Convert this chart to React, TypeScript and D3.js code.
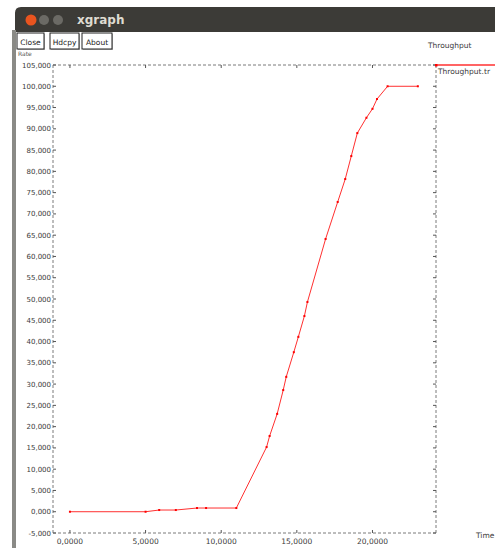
import React from "react";
import * as d3 from "d3";

const timeValues = [0, 5, 5.9, 7, 8.4, 9, 11, 13.0, 13.2, 13.7, 14.1, 14.3, 14.8, 15.1, 15.5, 15.7, 16.9, 17.7, 18.2, 18.6, 19.0, 19.6, 20.0, 20.3, 21.0, 23.0];
const throughputValues = [0, 0, 400, 400, 870, 870, 870, 15200, 17800, 23000, 28600, 31700, 37500, 41100, 46000, 49300, 64100, 72800, 78200, 83600, 89000, 92600, 94700, 97000, 100000, 100000];
const xTicks = [0, 5, 10, 15, 20];
const yTicks = d3.range(-5000, 105001, 5000);
const buttonLabels = ["Close", "Hdcpy", "About"];
const seriesName = "Throughput.tr";
const titleText = "xgraph";
const yUnit = "Rate";
const xUnit = "Time";
const legendTitle = "Throughput";

const W = 495;
const H = 548;

export default function App() {
  const x = d3.scaleLinear().domain([-1.12, 24.2]).range([53, 436]);
  const y = d3.scaleLinear().domain([-5000, 105000]).range([533, 65]);
  const data = timeValues.map((t, i) => [t, throughputValues[i]] as [number, number]);
  const line = d3.line<[number, number]>().x(d => x(d[0])).y(d => y(d[1]));
  const fmtY = (v: number) => (v < 0 ? "-" : "") + Math.abs(v / 1000) + ",000";
  const fmtX = (v: number) => v + ",0000";
  const axisColor = "#7a7a7a";
  const textColor = "#3a3a3a";
  const font = "DejaVu Sans, sans-serif";
  const [x0, x1] = x.range();
  const [yb, yt] = y.range();
  const btnX = [17, 50, 82];
  const btnW = [27, 29, 30];

  return (
    <svg width={W} height={H} style={{ position: "absolute", left: 0, top: 0, background: "#fff" }} fontFamily={font}>
      <rect x={0} y={0} width={W} height={H} fill="#fff" />
      {/* window frame */}
      <path d={`M15,${H} L15,13 Q15,7 21,7 L${W},7 L${W},32 L15,32`} fill="#3c3b37" />
      <rect x={12} y={30} width={4} height={H - 30} fill="#8a8a86" />
      <rect x={16} y={32} width={W - 16} height={H - 32} fill="#fff" />
      <circle cx={31} cy={20} r={5.5} fill="#e9541f" />
      <circle cx={44} cy={20} r={5} fill="#6b6a65" />
      <circle cx={58} cy={20} r={5} fill="#6b6a65" />
      <text x={77} y={24} fill="#dfdbd2" fontSize={12} fontWeight="bold" fontFamily="DejaVu Sans, sans-serif">{titleText}</text>
      {/* buttons */}
      {buttonLabels.map((b, i) => (
        <g key={b}>
          <rect x={btnX[i] + 1} y={34} width={btnW[i]} height={16} fill="#bbb" />
          <rect x={btnX[i]} y={33} width={btnW[i]} height={16} fill="#fff" stroke="#222" strokeWidth={1} />
          <text x={btnX[i] + btnW[i] / 2} y={45} textAnchor="middle" fontSize={7.5} fill="#222">{b}</text>
        </g>
      ))}
      <text x={18} y={56} fontSize={6} fill="#555">{yUnit}</text>
      <text x={428} y={48} fontSize={7.5} fill={textColor}>{legendTitle}</text>
      <text x={476} y={538} fontSize={7.5} fill={textColor}>{xUnit}</text>
      {/* axes frame dashed */}
      <g stroke={axisColor} strokeWidth={1} strokeDasharray="3,2" fill="none">
        <line x1={x0} x2={x1} y1={yt} y2={yt} />
        <line x1={x0} x2={x1} y1={yb} y2={yb} />
        <line x1={x0} x2={x0} y1={yt} y2={yb} />
        <line x1={x1} x2={x1} y1={yt} y2={yb} />
      </g>
      {/* y ticks */}
      {yTicks.map(v => (
        <g key={"y" + v}>
          <line x1={x0} x2={x0 + 3} y1={y(v)} y2={y(v)} stroke="#555" />
          <line x1={x1 - 3} x2={x1} y1={y(v)} y2={y(v)} stroke="#555" />
          <text x={x0 - 2} y={y(v) + 2.5} textAnchor="end" fontSize={7} fill={textColor}>{fmtY(v)}</text>
        </g>
      ))}
      {/* x ticks */}
      {xTicks.map(v => (
        <g key={"x" + v}>
          <line x1={x(v)} x2={x(v)} y1={yb} y2={yb - 3} stroke="#555" />
          <line x1={x(v)} x2={x(v)} y1={yt} y2={yt + 3} stroke="#555" />
          <text x={x(v)} y={yb + 11} textAnchor="middle" fontSize={7.5} fill={textColor}>{fmtX(v)}</text>
        </g>
      ))}
      {/* series */}
      <path d={line(data) || ""} fill="none" stroke="#ff3030" strokeWidth={1} />
      {data.map((d, i) => (
        <rect key={"p" + i} x={x(d[0]) - 1} y={y(d[1]) - 1} width={2} height={2} fill="#ff0000" />
      ))}
      {/* legend */}
      <line x1={x1} x2={W} y1={yt} y2={yt} stroke="#ff3030" strokeWidth={1.5} />
      <rect x={x1 - 1} y={yt - 1} width={2.5} height={2.5} fill="#ff0000" />
      <text x={x1 + 2} y={yt + 9} fontSize={7.5} fill={textColor}>{seriesName}</text>
    </svg>
  );
}
